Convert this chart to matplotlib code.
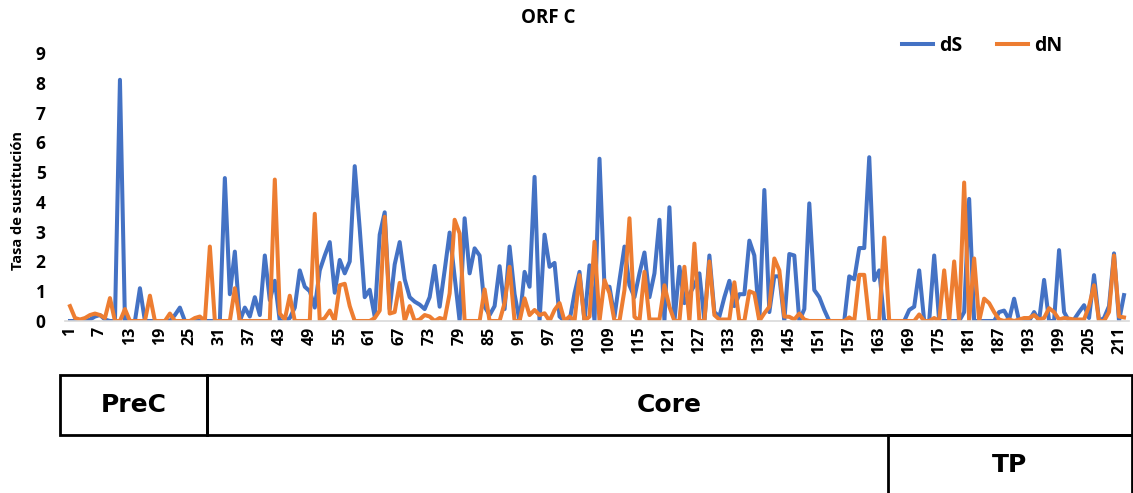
import numpy as np
import matplotlib
matplotlib.use("Agg")
import matplotlib.pyplot as plt
from matplotlib.patches import Rectangle

# Tasas de sustitución por codón del ORF C
codones = list(range(1, 213))

dS = [0, 0, 0, 0, 0.05, 0.15, 0.2, 0.05, 0, 0,
      8.1, 0, 0, 0, 1.1, 0, 0, 0, 0, 0,
      0, 0.2, 0.45, 0, 0, 0, 0, 0, 0, 0,
      0, 4.8, 0.9, 2.33, 0, 0.45, 0.15, 0.8, 0.2, 2.2,
      0.7, 1.35, 0, 0, 0.1, 0.45, 1.7, 1.15, 1.0, 0.45,
      1.7, 2.2, 2.65, 0.95, 2.05, 1.6, 2.0, 5.2, 3.1, 0.8,
      1.05, 0.15, 2.9, 3.65, 0.4, 1.9, 2.65, 1.4, 0.8, 0.65,
      0.55, 0.4, 0.8, 1.85, 0.48, 1.7, 2.97, 1.5, 0, 3.45,
      1.6, 2.44, 2.2, 0.48, 0.2, 0.5, 1.84, 0.4, 2.5, 0.9,
      0, 1.65, 1.15, 4.84, 0, 2.9, 1.82, 1.95, 0.15, 0,
      0, 0.93, 1.65, 0, 1.87, 0, 5.45, 1.15, 1.15, 0.14,
      1.37, 2.5, 1.2, 0.8, 1.6, 2.3, 0.8, 1.6, 3.4, 0,
      3.82, 0, 1.82, 0.6, 0.9, 1.2, 1.6, 0, 2.2, 0.3,
      0.15, 0.8, 1.35, 0.5, 0.9, 0.9, 2.7, 2.2, 0, 4.4,
      0.3, 1.5, 1.5, 0, 2.25, 2.2, 0, 0.4, 3.95, 1.04,
      0.8, 0.37, 0, 0, 0, 0, 1.5, 1.4, 2.45, 2.45,
      5.5, 1.37, 1.7, 0, 0, 0, 0, 0, 0.37, 0.48,
      1.7, 0, 0, 2.2, 0, 0, 0, 0, 0, 0.3,
      4.1, 0, 0, 0, 0, 0, 0.3, 0.35, 0.05, 0.75,
      0, 0, 0, 0.3, 0, 1.38, 0, 0, 2.38, 0.3,
      0, 0.05, 0.3, 0.53, 0.1, 1.54, 0, 0.1, 0.5, 2.27,
      0, 0.87]

dN = [0.5, 0.1, 0.05, 0.1, 0.2, 0.25, 0.2, 0.1, 0.77, 0,
      0, 0.4, 0, 0, 0, 0, 0.85, 0, 0, 0,
      0.25, 0, 0, 0, 0, 0.1, 0.15, 0, 2.5, 0,
      0, 0, 0, 1.1, 0, 0, 0, 0, 0, 0,
      0, 4.75, 0.25, 0.05, 0.85, 0, 0, 0, 0, 3.6,
      0, 0.1, 0.35, 0, 1.2, 1.25, 0.5, 0, 0, 0,
      0, 0.1, 0.35, 3.5, 0.25, 0.3, 1.28, 0, 0.5, 0,
      0.05, 0.2, 0.15, 0, 0.1, 0.05, 0.93, 3.4, 2.94, 0,
      0, 0, 0, 1.06, 0, 0, 0, 0.6, 1.82, 0,
      0, 0.76, 0.2, 0.37, 0.2, 0.26, 0, 0.37, 0.6, 0,
      0.15, 0, 1.54, 0, 0.15, 2.66, 0, 1.37, 0.93, 0,
      0, 1.04, 3.45, 0.14, 0, 1.65, 0.05, 0.05, 0.05, 1.2,
      0.48, 0, 0, 1.82, 0, 2.6, 0, 0, 2.0, 0.2,
      0.05, 0.05, 0.05, 1.3, 0, 0, 1.0, 0.93, 0, 0.26,
      0.48, 2.1, 1.7, 0.15, 0.14, 0.05, 0.25, 0.05, 0, 0,
      0, 0, 0, 0, 0, 0, 0.12, 0, 1.55, 1.55,
      0, 0, 0, 2.8, 0, 0, 0, 0, 0, 0,
      0.22, 0, 0, 0.1, 0, 1.7, 0, 2.0, 0, 4.65,
      0, 2.1, 0, 0.75, 0.6, 0.3, 0.05, 0, 0.05, 0,
      0.05, 0.1, 0.1, 0.2, 0.05, 0.1, 0.43, 0.3, 0.05, 0.1,
      0.08, 0.05, 0.05, 0.05, 0.5, 1.2, 0, 0, 0.3, 2.2,
      0.15, 0.12]

# Regiones del ORF: (nombre, x0, y0, ancho, alto) en píxeles de la figura
regiones = [("PreC", 60, 375, 147, 60),
            ("Core", 207, 375, 925, 60),
            ("TP", 888, 435, 244, 60)]

W, H = 1133, 493
plt.rcParams['font.family'] = ['Open Sans', 'DejaVu Sans']
plt.rcParams['font.weight'] = 'bold'

fig = plt.figure(figsize=(W / 100, H / 100), dpi=100)
ax = fig.add_axes([65 / W, 1 - 321 / H, (1129 - 65) / W, (321 - 53) / H])

azul = '#4472C4'
naranja = '#ED7D31'
ax.plot(codones, dS, color=azul, lw=2.9, label='dS', solid_joinstyle='round')
ax.plot(codones, dN, color=naranja, lw=2.9, label='dN', solid_joinstyle='round')

ax.set_xlim(0, 213)
ax.set_ylim(0, 9)
ax.set_yticks(range(0, 10))
ax.set_xticks(codones[::6])
ax.set_xticklabels([str(c) for c in codones[::6]], rotation=90, fontsize=11.5, fontweight='bold')
ax.tick_params(axis='y', length=0, labelsize=12.5, pad=14)
ax.tick_params(axis='x', length=0, pad=4)
for lab in ax.get_yticklabels():
    lab.set_fontweight('bold')

for lado in ['top', 'right', 'left']:
    ax.spines[lado].set_visible(False)
ax.spines['bottom'].set_color('#D9D9D9')
ax.spines['bottom'].set_linewidth(1.2)
ax.set_facecolor('none')

fig.text(18 / W, 1 - 200 / H, 'Tasa de sustitución', rotation=90,
         ha='center', va='center', fontsize=10.5, fontweight='bold')
fig.text(548 / W, 1 - 18 / H, 'ORF C', ha='center', va='center',
         fontsize=13.5, fontweight='bold')

fig.legend(loc='center', bbox_to_anchor=(982 / W, 1 - 46 / H), ncol=2,
           frameon=False, handlelength=1.6, handletextpad=0.3,
           columnspacing=1.8, prop={'weight': 'bold', 'size': 14})

# Cajas de regiones debajo del eje
for nombre, x0, y0, ancho, alto in regiones:
    rect = Rectangle((x0 / W, 1 - (y0 + alto) / H), ancho / W, alto / H,
                     transform=fig.transFigure, fill=False, ec='black',
                     lw=2.0, clip_on=False)
    fig.add_artist(rect)
    fig.text((x0 + ancho / 2) / W, 1 - (y0 + alto / 2) / H, nombre,
             ha='center', va='center', fontsize=18, fontweight='bold',
             family=['Liberation Sans Narrow', 'DejaVu Sans'])

fig.savefig('out.png', dpi=100)
